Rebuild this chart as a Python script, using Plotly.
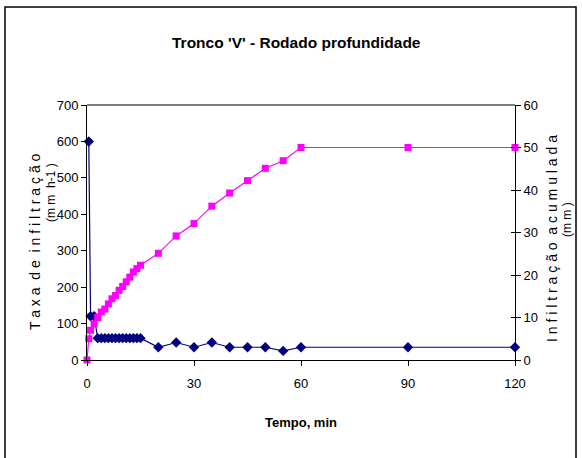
import plotly.graph_objects as go

# Tempo (min) das leituras
tempo = [0, 0.5, 1, 2, 3, 4, 5, 6, 7, 8, 9, 10, 11, 12, 13, 14, 15,
         20, 25, 30, 35, 40, 45, 50, 55, 60, 90, 120]

# Taxa de infiltração (mm h-1), a partir de 0,5 min
tempo_taxa = tempo[1:]
taxa = [600, 120, 120, 60, 60, 60, 60, 60, 60, 60, 60, 60, 60, 60, 60, 60,
        35, 48, 35, 48, 35, 35, 35, 25, 35, 35, 35]

# Infiltração acumulada (mm)
acumulada = [0, 5, 7, 8.5, 10, 11.3, 12, 13.2, 14.4, 15.2, 16.4, 17.3, 18.4,
             19.5, 20.7, 21.5, 22.3, 25.1, 29.2, 32.1, 36.2, 39.3, 42.2, 45.1,
             46.9, 50, 50, 50]

x_ticks = [0, 30, 60, 90, 120]

FONT = "Liberation Sans Narrow, Arial Narrow, Liberation Sans, Arial, sans-serif"
NAVY = "#000080"
MAGENTA = "#FF00FF"

fig = go.Figure()

fig.add_trace(go.Scatter(
    x=tempo_taxa, y=taxa, mode="lines+markers", yaxis="y",
    line=dict(color=NAVY, width=1.2),
    marker=dict(symbol="diamond", size=8, color=NAVY),
    showlegend=False, cliponaxis=False,
))
fig.add_trace(go.Scatter(
    x=tempo, y=acumulada, mode="lines+markers", yaxis="y2",
    line=dict(color=MAGENTA, width=1.2),
    marker=dict(symbol="square", size=7, color=MAGENTA),
    showlegend=False, cliponaxis=False,
))
# eixo auxiliar só para as marcas internas do eixo direito
fig.add_trace(go.Scatter(
    x=[None], y=[None], yaxis="y3", mode="markers",
    showlegend=False, hoverinfo="skip",
))

L, R, T, B = 87, 67, 105, 98
W, H = 582, 458
pw, ph = W - L - R, H - T - B


def px_x(p):
    return (p - L) / pw


def px_y(p):
    return (H - B - p) / ph


axis_common = dict(
    showgrid=False, zeroline=False, showline=True, linecolor="black",
    linewidth=1, ticks="outside", ticklen=5, tickcolor="black",
    tickfont=dict(family=FONT, size=13, color="black"),
)


def rotated(text, x, y, size):
    return dict(text=text, xref="paper", yref="paper", x=px_x(x), y=px_y(y),
                xanchor="center", yanchor="middle",
                textangle=-90, showarrow=False,
                font=dict(family=FONT, size=size, color="black"))


fig.update_layout(
    width=W, height=H,
    margin=dict(l=L, r=R, t=T, b=B),
    paper_bgcolor="white", plot_bgcolor="white",
    xaxis=dict(range=[0, 120], tickvals=x_ticks, ticklabelstandoff=6,
               **axis_common),
    yaxis=dict(range=[0, 700], dtick=100, **axis_common),
    yaxis2=dict(range=[0, 60], dtick=10, overlaying="y", side="right",
                **axis_common),
    yaxis3=dict(range=[0, 60], dtick=10, overlaying="y", side="right",
                anchor="x", showgrid=False, zeroline=False, showline=False,
                ticks="inside", ticklen=4, tickcolor="black",
                showticklabels=False),
    shapes=[
        # linha superior da área do gráfico
        dict(type="line", xref="paper", yref="paper", x0=0, x1=1, y0=1, y1=1,
             line=dict(color="black", width=1)),
        # moldura externa
        dict(type="rect", xref="paper", yref="paper",
             x0=px_x(5), x1=px_x(576), y0=px_y(475), y1=px_y(7),
             line=dict(color="black", width=1.5)),
    ],
    annotations=[
        dict(text="<b>Tronco 'V' - Rodado profundidade</b>", xref="paper",
             yref="paper", x=px_x(296), y=px_y(42), xanchor="center",
             yanchor="middle", showarrow=False,
             font=dict(family=FONT, size=15.5, color="black")),
        dict(text="<b>Tempo, min</b>", xref="paper", yref="paper",
             x=px_x(301), y=px_y(422), xanchor="center", yanchor="middle",
             showarrow=False,
             font=dict(family=FONT, size=13, color="black")),
        rotated("T a x a  d e  i n f i l t r a ç ã o", 35, 242, 14),
        rotated("(m m  h-1 )", 51, 193, 12),
        rotated("I n f i l t r a ç ã o  a c u m u l a d a", 552, 239, 14),
        rotated("(m m )", 567, 220, 12),
    ],
)

fig.write_html("out.html")
